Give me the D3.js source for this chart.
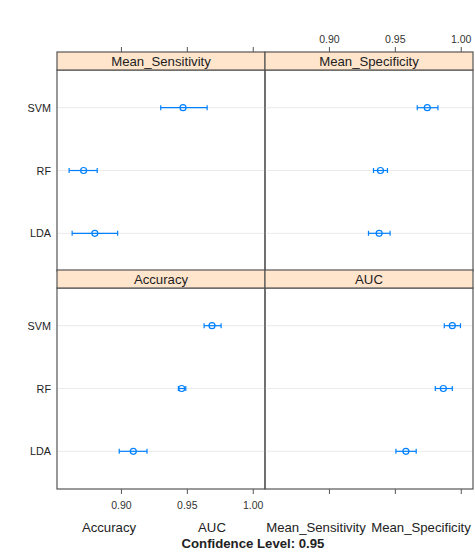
<!DOCTYPE html>
<html>
<head>
<meta charset="utf-8">
<script src="https://cdn.jsdelivr.net/npm/d3@7"></script>
<style>
body { margin:0; background:#fff; }
text { font-family: "Liberation Sans", Arial, sans-serif; fill:#222; }
.tick text { font-size:10.5px; fill:#333; }
.strip text { font-size:13.2px; }
.cat { font-size:10.8px; }
.bottomLab { font-size:13.2px; }
.title { font-size:13.2px; font-weight:bold; }
</style>
</head>
<body>
<script>
const w = 475, h = 552;

// models (top to bottom) and panels (lattice order)
const models = ["SVM", "RF", "LDA"];
const panels = ["Mean_Sensitivity", "Mean_Specificity", "Accuracy", "AUC"];
const xTicks = [0.90, 0.95, 1.00];
const bottomLabels = ["Accuracy", "AUC", "Mean_Sensitivity", "Mean_Specificity"];

// estimate, lower, upper per panel, in model order
const estimates = {
  Mean_Sensitivity: [0.9471, 0.8717, 0.8802],
  Mean_Specificity: [0.9746, 0.9391, 0.9381],
  Accuracy:         [0.9691, 0.9461, 0.9094],
  AUC:              [0.9936, 0.9868, 0.9584]
};
const lowers = {
  Mean_Sensitivity: [0.9302, 0.8607, 0.8630],
  Mean_Specificity: [0.9670, 0.9338, 0.9300],
  Accuracy:         [0.9631, 0.9436, 0.8987],
  AUC:              [0.9875, 0.9807, 0.9508]
};
const uppers = {
  Mean_Sensitivity: [0.9654, 0.8820, 0.8975],
  Mean_Specificity: [0.9827, 0.9444, 0.9464],
  Accuracy:         [0.9760, 0.9492, 0.9198],
  AUC:              [0.9998, 0.9936, 0.9662]
};

const left = 57, panelW = 208;
const rowsTop = [52, 270];      // strip tops
const stripH = 18, panelH = 201;
const blue = "#0080ff";

const svg = d3.select("body").append("svg").attr("width", w).attr("height", h);

const x = d3.scaleLinear().domain([0.8515, 1.0093]).range([0, panelW]);
const y = d3.scalePoint().domain(models).range([0, panelH]).padding(0.6);

panels.forEach(function(p, i) {
  const col = i % 2, row = Math.floor(i / 2);
  const px = left + col * panelW;
  const sy = rowsTop[row];
  const py = sy + stripH;

  const g = svg.append("g").attr("transform", "translate(" + px + "," + py + ")");

  // grid lines
  g.selectAll(".grid").data(models).enter().append("line")
    .attr("x1", 0).attr("x2", panelW)
    .attr("y1", d => y(d)).attr("y2", d => y(d))
    .attr("stroke", "#ebebeb").attr("stroke-width", 1);

  // confidence intervals
  const rows = models.map((m, j) => ({m: m, est: estimates[p][j], lo: lowers[p][j], hi: uppers[p][j]}));
  g.selectAll(".ci").data(rows).enter().append("line")
    .attr("x1", d => x(d.lo)).attr("x2", d => x(d.hi))
    .attr("y1", d => y(d.m)).attr("y2", d => y(d.m))
    .attr("stroke", blue).attr("stroke-width", 1.2);
  ["lo", "hi"].forEach(function(k) {
    g.selectAll(".cap" + k).data(rows).enter().append("line")
      .attr("x1", d => x(d[k])).attr("x2", d => x(d[k]))
      .attr("y1", d => y(d.m) - 2.5).attr("y2", d => y(d.m) + 2.5)
      .attr("stroke", blue).attr("stroke-width", 1.2);
  });
  g.selectAll(".pt").data(rows).enter().append("circle")
    .attr("cx", d => x(d.est)).attr("cy", d => y(d.m)).attr("r", 3)
    .attr("fill", "none").attr("stroke", blue).attr("stroke-width", 1.2);

  // panel border
  g.append("rect").attr("width", panelW).attr("height", panelH)
    .attr("fill", "none").attr("stroke", "#555").attr("stroke-width", 1.2);

  // strip
  const s = svg.append("g").attr("class", "strip").attr("transform", "translate(" + px + "," + sy + ")");
  s.append("rect").attr("width", panelW).attr("height", stripH)
    .attr("fill", "#ffe5cc").attr("stroke", "#555").attr("stroke-width", 1.2);
  s.append("text").attr("x", panelW / 2).attr("y", stripH / 2 + 4.8)
    .attr("text-anchor", "middle").text(p);

  // model labels on left column
  if (col === 0) {
    g.selectAll(".cat").data(models).enter().append("text")
      .attr("class", "cat")
      .attr("x", -6).attr("y", d => y(d) + 4)
      .attr("text-anchor", "end").text(d => d);
  }
});

// alternating axes: top on right column, bottom on left column
const axTop = d3.axisTop(x).tickValues(xTicks).tickFormat(d3.format(".2f")).tickSize(5).tickSizeOuter(0);
const axBot = d3.axisBottom(x).tickValues(xTicks).tickFormat(d3.format(".2f")).tickSize(5).tickSizeOuter(0);
const bottomY = rowsTop[1] + stripH + panelH;

[0, 1].forEach(function(col) {
  const px = left + col * panelW;
  const t = svg.append("g").attr("transform", "translate(" + px + "," + rowsTop[0] + ")").call(axTop);
  const b = svg.append("g").attr("transform", "translate(" + px + "," + bottomY + ")").call(axBot);
  [t, b].forEach(a => {
    a.select(".domain").remove();
    a.selectAll(".tick line").attr("stroke", "#555");
  });
  if (col === 0) t.selectAll(".tick text").remove();
  if (col === 1) b.selectAll(".tick text").remove();
  t.selectAll(".tick text").attr("dy", "-0.1em");
  b.selectAll(".tick text").attr("dy", "1.1em");
});

// x label
const labX = [109, 212, 316, 421];
svg.selectAll(".bottomLab").data(bottomLabels).enter().append("text")
  .attr("class", "bottomLab")
  .attr("x", (d, i) => labX[i]).attr("y", 532)
  .attr("text-anchor", "middle").text(d => d);
svg.append("text").attr("class", "title")
  .attr("x", 253).attr("y", 548).attr("text-anchor", "middle")
  .text("Confidence Level: 0.95");
</script>
</body>
</html>
